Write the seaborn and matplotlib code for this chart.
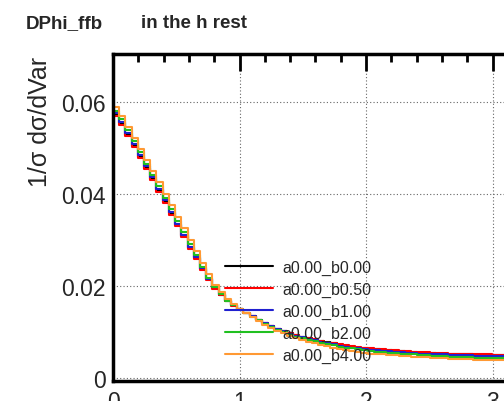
import numpy as np
import pandas as pd
import seaborn as sns
import matplotlib.pyplot as plt
from matplotlib.lines import Line2D
from matplotlib.ticker import MultipleLocator, FuncFormatter

# binning of DPhi_ffb (64 bins over [0, pi])
n_bins = 64
x_min, x_max = 0.0, np.pi

labels = ['a0.00_b0.00', 'a0.00_b0.50', 'a0.00_b1.00', 'a0.00_b2.00', 'a0.00_b4.00']
colors = ['black', '#ff0000', '#2020d0', '#20c020', '#ff9933']

# normalised bin contents
b000 = [0.0572, 0.0553, 0.0529, 0.0505, 0.0481, 0.0457, 0.0433, 0.0408, 0.0383, 0.0358,
        0.0333, 0.0308, 0.0283, 0.0260, 0.0237, 0.0215, 0.0196, 0.0181, 0.0168, 0.0158,
        0.0150, 0.0142, 0.0134, 0.0126, 0.0119, 0.0113, 0.0107, 0.0102, 0.0097, 0.0093,
        0.0089, 0.0086, 0.0083, 0.0080, 0.0077, 0.0075, 0.0072, 0.0070, 0.0068, 0.0066,
        0.0064, 0.0063, 0.0062, 0.0061, 0.0060, 0.0059, 0.0058, 0.0057, 0.0056, 0.0055,
        0.0055, 0.0054, 0.0053, 0.0053, 0.0052, 0.0052, 0.0051, 0.0051, 0.0050, 0.0050,
        0.0050, 0.0049, 0.0049, 0.0049]
b050 = [0.0569, 0.0550, 0.0526, 0.0502, 0.0478, 0.0454, 0.0430, 0.0405, 0.0380, 0.0355,
        0.0331, 0.0306, 0.0281, 0.0258, 0.0235, 0.0213, 0.0194, 0.0180, 0.0167, 0.0157,
        0.0149, 0.0142, 0.0134, 0.0126, 0.0119, 0.0113, 0.0107, 0.0102, 0.0097, 0.0093,
        0.0089, 0.0087, 0.0084, 0.0081, 0.0078, 0.0076, 0.0073, 0.0071, 0.0069, 0.0067,
        0.0065, 0.0064, 0.0063, 0.0062, 0.0061, 0.0060, 0.0059, 0.0058, 0.0057, 0.0056,
        0.0056, 0.0055, 0.0054, 0.0054, 0.0053, 0.0053, 0.0052, 0.0052, 0.0051, 0.0051,
        0.0051, 0.0050, 0.0050, 0.0050]
b100 = [0.0575, 0.0556, 0.0532, 0.0508, 0.0484, 0.0460, 0.0436, 0.0411, 0.0386, 0.0360,
        0.0335, 0.0310, 0.0285, 0.0262, 0.0239, 0.0216, 0.0197, 0.0182, 0.0169, 0.0159,
        0.0150, 0.0142, 0.0134, 0.0126, 0.0119, 0.0113, 0.0106, 0.0101, 0.0096, 0.0092,
        0.0088, 0.0085, 0.0082, 0.0079, 0.0076, 0.0074, 0.0070, 0.0068, 0.0066, 0.0064,
        0.0062, 0.0061, 0.0060, 0.0059, 0.0058, 0.0057, 0.0056, 0.0055, 0.0054, 0.0053,
        0.0053, 0.0052, 0.0051, 0.0051, 0.0050, 0.0050, 0.0049, 0.0049, 0.0048, 0.0048,
        0.0048, 0.0047, 0.0047, 0.0047]
b200 = [0.0581, 0.0562, 0.0538, 0.0514, 0.0490, 0.0466, 0.0442, 0.0417, 0.0392, 0.0367,
        0.0342, 0.0317, 0.0290, 0.0267, 0.0242, 0.0218, 0.0198, 0.0182, 0.0168, 0.0158,
        0.0149, 0.0141, 0.0133, 0.0125, 0.0117, 0.0111, 0.0105, 0.0100, 0.0094, 0.0090,
        0.0086, 0.0083, 0.0080, 0.0077, 0.0073, 0.0071, 0.0068, 0.0066, 0.0064, 0.0062,
        0.0060, 0.0058, 0.0057, 0.0056, 0.0055, 0.0054, 0.0053, 0.0052, 0.0051, 0.0050,
        0.0049, 0.0048, 0.0047, 0.0047, 0.0046, 0.0046, 0.0045, 0.0045, 0.0044, 0.0044,
        0.0044, 0.0043, 0.0043, 0.0043]
b400 = [0.0589, 0.0570, 0.0546, 0.0522, 0.0498, 0.0474, 0.0450, 0.0425, 0.0400, 0.0375,
        0.0350, 0.0325, 0.0300, 0.0275, 0.0250, 0.0225, 0.0202, 0.0186, 0.0172, 0.0160,
        0.0150, 0.0141, 0.0133, 0.0124, 0.0116, 0.0109, 0.0103, 0.0097, 0.0092, 0.0087,
        0.0083, 0.0079, 0.0075, 0.0072, 0.0069, 0.0066, 0.0063, 0.0061, 0.0059, 0.0057,
        0.0055, 0.0053, 0.0052, 0.0051, 0.0050, 0.0049, 0.0048, 0.0047, 0.0046, 0.0045,
        0.0045, 0.0044, 0.0043, 0.0043, 0.0042, 0.0042, 0.0041, 0.0041, 0.0040, 0.0040,
        0.0040, 0.0039, 0.0039, 0.0039]
series = [b000, b050, b100, b200, b400]

edges = np.linspace(x_min, x_max, n_bins + 1)
centers = 0.5 * (edges[:-1] + edges[1:])
df = pd.concat([pd.DataFrame({'DPhi': centers, 'w': vals, 'sample': lab})
                for lab, vals in zip(labels, series)], ignore_index=True)

sns.set_style('white')
plt.rcParams['font.family'] = ['Liberation Sans', 'DejaVu Sans']

fig = plt.figure(figsize=(5.04, 4.02), dpi=100)
ax = fig.add_axes([113 / 504, 20.3 / 402, 397.5 / 504, 326.7 / 402])

# seaborn draws hue levels in reverse order -> reverse so orange ends on top
sns.histplot(data=df, x='DPhi', weights='w', hue='sample', hue_order=labels[::-1],
             palette=dict(zip(labels, colors)), bins=n_bins, binrange=(x_min, x_max),
             element='step', fill=False, stat='count', legend=False, linewidth=1.5, ax=ax)

ax.set_xlim(x_min, x_max)
ax.set_ylim(-0.0006, 0.0704)
ax.set_xlabel('')
ax.set_ylabel('')

ax.xaxis.set_major_locator(MultipleLocator(1))
ax.xaxis.set_minor_locator(MultipleLocator(0.2))
ax.yaxis.set_major_locator(MultipleLocator(0.02))
ax.yaxis.set_minor_locator(MultipleLocator(0.005))
ax.yaxis.set_major_formatter(FuncFormatter(lambda v, _: '0' if abs(v) < 1e-9 else f'{v:.2f}'))
ax.tick_params(which='both', direction='in', top=True, right=False, width=2, color='black')
ax.tick_params(which='major', length=12, labelsize=16.5, pad=5)
ax.tick_params(which='minor', length=6)
ax.tick_params(axis='x', which='major', pad=7)
ax.grid(True, which='major', linestyle=(0, (1, 2)), color='#666666', linewidth=0.8)
for s in ax.spines.values():
    s.set_linewidth(2.5)
    s.set_color('black')

handles = [Line2D([], [], color=c, lw=1.5) for c in colors]
ax.legend(handles, labels, frameon=False, loc='upper left',
          bbox_to_anchor=(225 / 504, 1 - 261 / 402), bbox_transform=fig.transFigure,
          fontsize=11.5, handlelength=3.0, handletextpad=0.6, labelspacing=0.42,
          borderpad=0, borderaxespad=0)

fig.text(26 / 504, 1 - 24 / 402, 'DPhi_ffb', fontsize=13.5, fontweight='bold', va='center')
fig.text(141 / 504, 1 - 24 / 402, 'in the h rest', fontsize=13.5, fontweight='bold', va='center')
fig.text(40 / 504, 1 - 57 / 402, '1/σ dσ/dVar', fontsize=18, rotation=90, ha='center', va='top')

fig.savefig('out.png', dpi=100)
